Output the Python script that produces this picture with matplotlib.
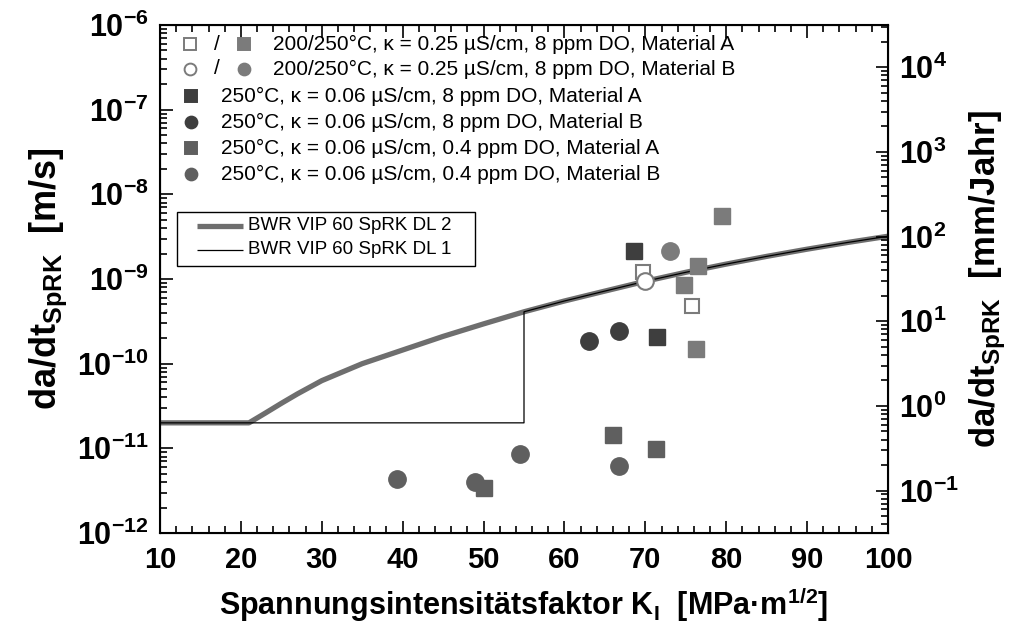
import matplotlib
matplotlib.use('Agg')
import matplotlib.pyplot as plt
from matplotlib.ticker import FixedLocator, FixedFormatter, LogLocator, NullFormatter, MultipleLocator
from matplotlib.patches import Rectangle
from matplotlib.lines import Line2D

plt.rcParams['font.family'] = ['Liberation Sans', 'DejaVu Sans']
plt.rcParams['mathtext.fontset'] = 'custom'
plt.rcParams['mathtext.rm'] = 'Liberation Sans'
plt.rcParams['mathtext.bf'] = 'Liberation Sans:bold'
plt.rcParams['mathtext.it'] = 'Liberation Sans:italic'

# ---- data ----
dl2_k = [10, 21, 23, 25, 27, 30, 35, 40, 45, 50, 55, 60, 65, 70, 75, 80, 85, 90, 95, 100]
dl2_v = [2.0e-11, 2.0e-11, 2.6e-11, 3.4e-11, 4.4e-11, 6.3e-11, 1.0e-10, 1.45e-10, 2.1e-10, 2.95e-10,
         4.1e-10, 5.5e-10, 7.2e-10, 9.4e-10, 1.2e-9, 1.5e-9, 1.85e-9, 2.25e-9, 2.7e-9, 3.2e-9]
dl1_k = [10, 55, 55, 60, 65, 70, 75, 80, 85, 90, 95, 100]
dl1_v = [2.0e-11, 2.0e-11, 4.1e-10, 5.5e-10, 7.2e-10, 9.4e-10, 1.2e-9, 1.5e-9, 1.85e-9, 2.25e-9,
         2.7e-9, 3.2e-9]

a025_open_k = [69.7, 75.8]
a025_open_v = [1.22e-9, 4.8e-10]
a025_fill_k = [79.5, 76.5, 74.8, 76.3]
a025_fill_v = [5.5e-9, 1.43e-9, 8.6e-10, 1.49e-10]
b025_open_k = [69.9]
b025_open_v = [9.4e-10]
b025_fill_k = [73.0]
b025_fill_v = [2.15e-9]
a006_8_k = [68.6, 71.4]
a006_8_v = [2.15e-9, 2.04e-10]
b006_8_k = [63.0, 66.8]
b006_8_v = [1.86e-10, 2.44e-10]
a006_04_k = [66.0, 71.3, 50.0]
a006_04_v = [1.44e-11, 9.8e-12, 3.4e-12]
b006_04_k = [39.3, 48.9, 54.5, 66.7]
b006_04_v = [4.4e-12, 4.0e-12, 8.6e-12, 6.2e-12]

legend_rows = [
    '200/250°C, κ = 0.25 µS/cm, 8 ppm DO, Material A',
    '200/250°C, κ = 0.25 µS/cm, 8 ppm DO, Material B',
    '250°C, κ = 0.06 µS/cm, 8 ppm DO, Material A',
    '250°C, κ = 0.06 µS/cm, 8 ppm DO, Material B',
    '250°C, κ = 0.06 µS/cm, 0.4 ppm DO, Material A',
    '250°C, κ = 0.06 µS/cm, 0.4 ppm DO, Material B',
]
dl_labels = ['BWR VIP 60 SpRK DL 2', 'BWR VIP 60 SpRK DL 1']

x_ticks = [10, 20, 30, 40, 50, 60, 70, 80, 90, 100]
y_ticks = [1e-12, 1e-11, 1e-10, 1e-9, 1e-8, 1e-7, 1e-6]
y_ticklabels = [r'$\mathbf{10^{-12}}$', r'$\mathbf{10^{-11}}$', r'$\mathbf{10^{-10}}$',
                r'$\mathbf{10^{-9}}$', r'$\mathbf{10^{-8}}$', r'$\mathbf{10^{-7}}$', r'$\mathbf{10^{-6}}$']
y2_ticks = [1e-1, 1e0, 1e1, 1e2, 1e3, 1e4]
y2_ticklabels = [r'$\mathbf{10^{-1}}$', r'$\mathbf{10^{0}}$', r'$\mathbf{10^{1}}$',
                 r'$\mathbf{10^{2}}$', r'$\mathbf{10^{3}}$', r'$\mathbf{10^{4}}$']
conv = 3.1536e10  # m/s -> mm/Jahr

C_LIGHT = '#7b7b7b'
C_DARK = '#3e3e3e'
C_MED = '#5f5f5f'

fig = plt.figure(figsize=(10.15, 6.3), dpi=100)
L, R, B, T = 160, 888, 533, 25
ax = fig.add_axes([L / 1015, 1 - B / 630, (R - L) / 1015, (B - T) / 630])
ax.set_xlim(10, 100)
ax.set_yscale('log')
ax.set_ylim(1e-12, 1e-6)

ax.plot(dl2_k, dl2_v, color='#6e6e6e', lw=3.8, solid_capstyle='butt', solid_joinstyle='round', zorder=2)
ax.plot(dl1_k, dl1_v, color='black', lw=0.9, zorder=3)

ms_sq = 11
ms_ci = 12.5
ax.plot(a025_fill_k, a025_fill_v, 's', color=C_LIGHT, ms=ms_sq, mec=C_LIGHT, zorder=4)
ax.plot(b025_fill_k, b025_fill_v, 'o', color=C_LIGHT, ms=ms_ci, mec=C_LIGHT, zorder=4)
ax.plot(a025_open_k, a025_open_v, 's', mfc='white', mec=C_LIGHT, mew=1.5, ms=ms_sq - 1, zorder=5)
ax.plot(b025_open_k, b025_open_v, 'o', mfc='white', mec=C_LIGHT, mew=1.5, ms=ms_ci - 0.5, zorder=5)
ax.plot(a006_8_k, a006_8_v, 's', color=C_DARK, ms=ms_sq, zorder=4)
ax.plot(b006_8_k, b006_8_v, 'o', color=C_DARK, ms=ms_ci, zorder=4)
ax.plot(a006_04_k, a006_04_v, 's', color=C_MED, ms=ms_sq, zorder=4)
ax.plot(b006_04_k, b006_04_v, 'o', color=C_MED, ms=ms_ci, zorder=4)

# ticks
ax.xaxis.set_major_locator(FixedLocator(x_ticks))
ax.xaxis.set_minor_locator(MultipleLocator(2))
ax.yaxis.set_major_locator(FixedLocator(y_ticks))
ax.yaxis.set_major_formatter(FixedFormatter(y_ticklabels))
ax.yaxis.set_minor_locator(LogLocator(base=10, subs=range(2, 10), numticks=20))
ax.yaxis.set_minor_formatter(NullFormatter())
ax.tick_params(axis='both', which='both', direction='in', top=True, right=False, width=1.2)
ax.tick_params(axis='both', which='major', length=9)
ax.tick_params(axis='both', which='minor', length=5)
ax.tick_params(axis='x', which='major', labelsize=21, pad=9)
ax.tick_params(axis='y', which='major', labelsize=22, pad=8)
for lab in ax.get_xticklabels():
    lab.set_fontweight('bold')
for s in ax.spines.values():
    s.set_linewidth(1.5)

ax2 = ax.twinx()
ax2.set_yscale('log')
ax2.set_ylim(1e-12 * conv, 1e-6 * conv)
ax2.yaxis.set_major_locator(FixedLocator(y2_ticks))
ax2.yaxis.set_major_formatter(FixedFormatter(y2_ticklabels))
ax2.yaxis.set_minor_locator(LogLocator(base=10, subs=range(2, 10), numticks=20))
ax2.yaxis.set_minor_formatter(NullFormatter())
ax2.tick_params(axis='y', which='both', direction='in', width=1.2)
ax2.tick_params(axis='y', which='major', length=9, labelsize=22, pad=8)
ax2.tick_params(axis='y', which='minor', length=5)

ax.set_ylabel(r'$\mathbf{da/dt_{SpRK}}$  [m/s]', fontsize=26, fontweight='bold', labelpad=6)
ax2.set_ylabel(r'$\mathbf{da/dt_{SpRK}}$  [mm/Jahr]', fontsize=25, fontweight='bold', labelpad=6)
ax.set_xlabel(r'Spannungsintensitätsfaktor K$_\mathbf{I}$  [MPa·m$^\mathbf{1/2}$]', fontsize=22,
              fontweight='bold', labelpad=8)


def axx(px):
    return (px - L) / (R - L)


def axy(py):
    return (B - py) / (B - T)


# upper legend (manual)
row_y = [44, 69, 96, 122, 148, 174]
lfs = 15
styles = [
    [('s', 'white', C_LIGHT, 190), ('s', C_LIGHT, C_LIGHT, 244)],
    [('o', 'white', C_LIGHT, 190), ('o', C_LIGHT, C_LIGHT, 244)],
    [('s', C_DARK, C_DARK, 191)],
    [('o', C_DARK, C_DARK, 191)],
    [('s', C_MED, C_MED, 191)],
    [('o', C_MED, C_MED, 191)],
]
for i, (txt, st) in enumerate(zip(legend_rows, styles)):
    yy = axy(row_y[i])
    for (mk, fc, ec, px) in st:
        ax.plot([axx(px)], [yy], mk, mfc=fc, mec=ec, mew=1.4, ms=8.5, transform=ax.transAxes,
                clip_on=False, zorder=6)
    if len(st) == 2:
        ax.text(axx(217), yy, '/', fontsize=lfs, ha='center', va='center', transform=ax.transAxes)
        tx = 273
    else:
        tx = 221
    ax.text(axx(tx), yy, txt, fontsize=lfs, ha='left', va='center', transform=ax.transAxes)

# lower legend box (manual)
ax.add_patch(Rectangle((axx(177), axy(266)), axx(475) - axx(177), axy(212) - axy(266),
                       transform=ax.transAxes, fill=True, facecolor='white', edgecolor='black',
                       lw=1.0, zorder=6))
for i, (lab, lw, col) in enumerate(zip(dl_labels, [3.8, 0.9], ['#6e6e6e', 'black'])):
    yy = axy(226 + 24 * i)
    ax.add_line(Line2D([axx(197), axx(243)], [yy, yy], color=col, lw=lw, transform=ax.transAxes,
                       solid_capstyle='butt', zorder=7))
    ax.text(axx(248), yy, lab, fontsize=13.5, ha='left', va='center', transform=ax.transAxes, zorder=7)

fig.savefig('out.png', dpi=100)
